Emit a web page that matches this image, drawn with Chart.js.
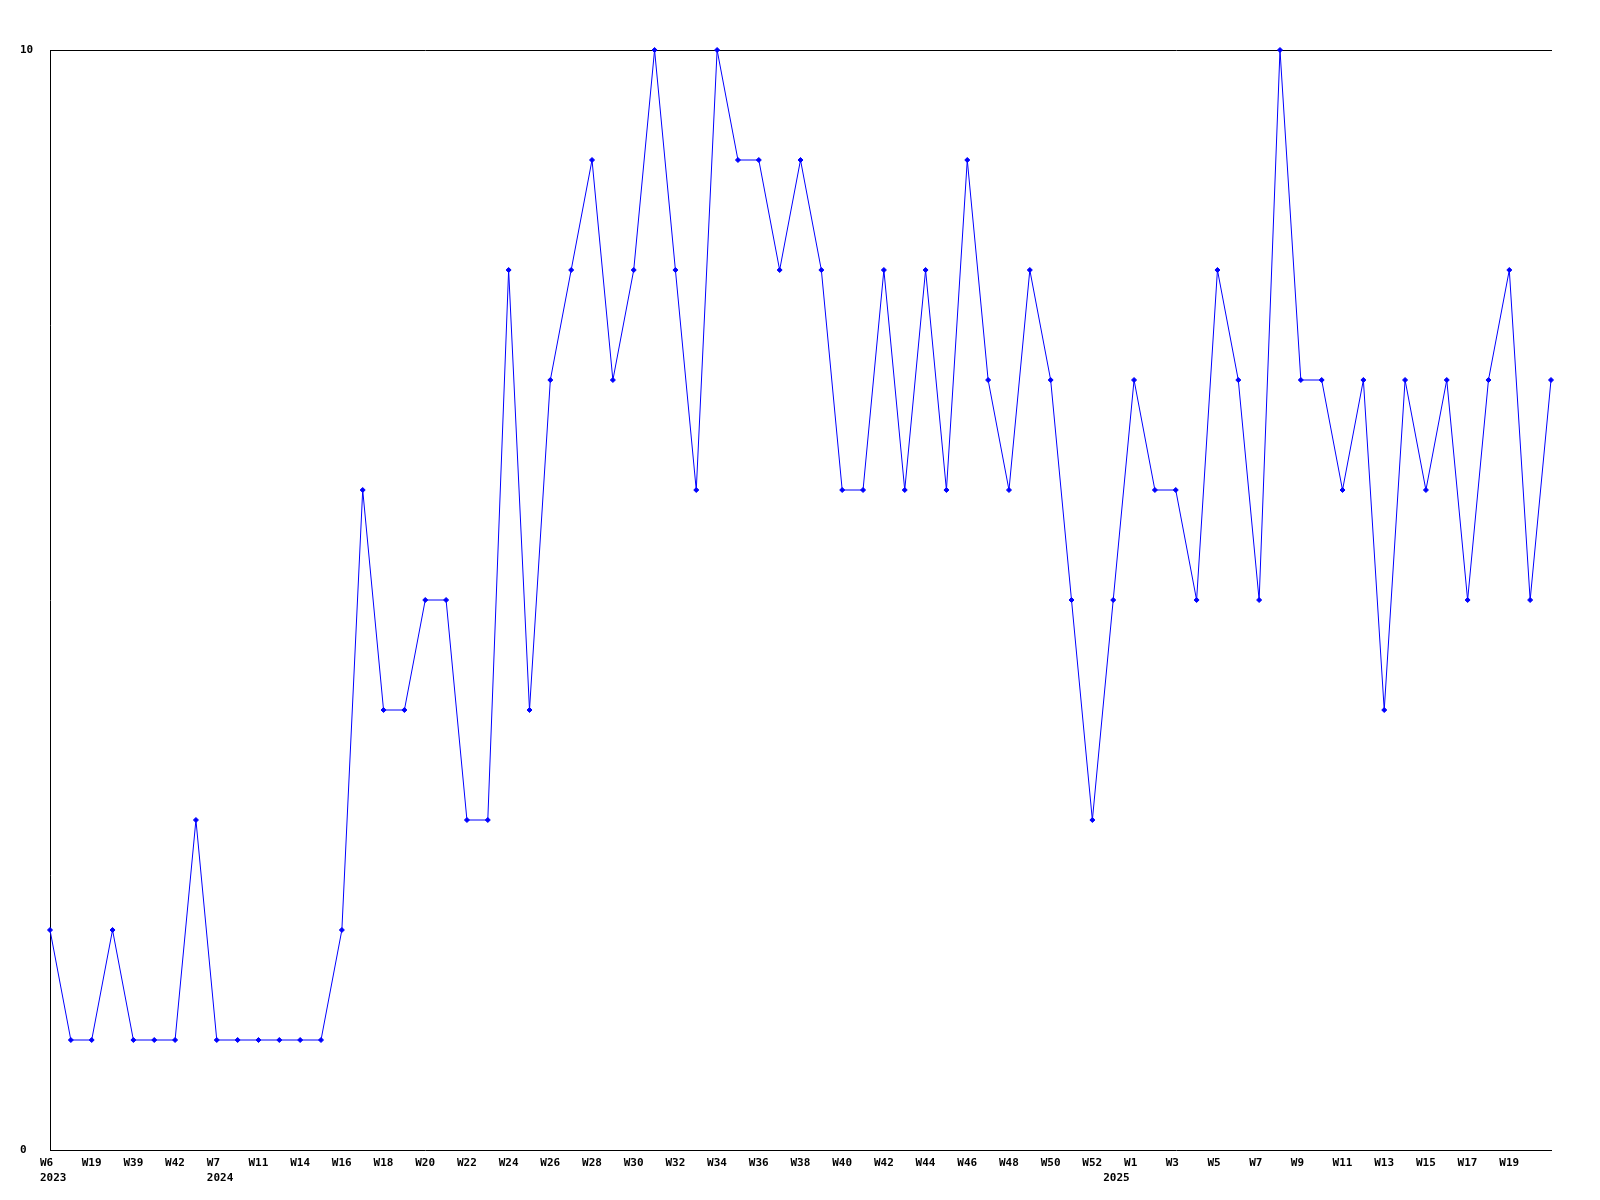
<!DOCTYPE html>
<html><head><meta charset="utf-8">
<script src="https://cdn.jsdelivr.net/npm/chart.js@4.4.1/dist/chart.umd.min.js"></script>
<style>html,body{margin:0;padding:0;background:#fff}#wrap{width:1600px;height:1200px}</style>
</head><body><div id="wrap"><canvas id="c" width="1600" height="1200"></canvas></div>
<script>
const weeks = ['W6','W12','W19','W30','W39','W40','W42','W48','W7','W9','W11','W13','W14','W15',
  'W16','W17','W18','W19','W20','W21','W22','W23','W24','W25','W26','W27','W28','W29','W30','W31',
  'W32','W33','W34','W35','W36','W37','W38','W39','W40','W41','W42','W43','W44','W45','W46','W47',
  'W48','W49','W50','W51','W52','W0',
  'W1','W2','W3','W4','W5','W6','W7','W8','W9','W10','W11','W12','W13','W14','W15','W16','W17','W18','W19','W20','W21'];
const years = ['2023','2023','2023','2023','2023','2023','2023','2023',
  '2024','2024','2024','2024','2024','2024','2024','2024','2024','2024','2024','2024','2024','2024',
  '2024','2024','2024','2024','2024','2024','2024','2024','2024','2024','2024','2024','2024','2024',
  '2024','2024','2024','2024','2024','2024','2024','2024','2024','2024','2024','2024','2024','2024',
  '2024',
  '2025','2025','2025','2025','2025','2025','2025','2025','2025','2025','2025','2025','2025','2025',
  '2025','2025','2025','2025','2025','2025','2025','2025'];
const values = [2,1,1,2,1,1,1,3,1,1,1,1,1,1,
  2,6,4,4,5,5,3,3,8,4,7,8,9,7,8,10,8,6,10,9,9,8,9,8,6,6,8,6,8,6,9,7,6,8,7,5,3,5,
  7,6,6,5,8,7,5,10,7,7,6,7,4,7,6,7,5,7,8,5,7];
const yTickValues = [0, 10];

const tickFont = {family: 'DejaVu Sans Mono', weight: 'bold', size: 11, lineHeight: 1.4};

function tickLabel(i) {
  const showWeek = i % 2 === 0 && i < weeks.length - 1;
  const showYear = i === 0 || years[i] !== years[i - 1];
  if (showYear) return [showWeek ? weeks[i] : '', years[i]];
  return showWeek ? weeks[i] : '';
}

new Chart(document.getElementById('c'), {
  type: 'line',
  data: {
    labels: weeks,
    datasets: [{
      data: values,
      borderColor: '#0000ff',
      backgroundColor: '#0000ff',
      borderWidth: 1,
      tension: 0,
      fill: false,
      clip: false,
      pointStyle: 'rectRot',
      pointRadius: 2.5,
      pointBorderWidth: 1,
      pointBorderColor: '#0000ff',
      pointBackgroundColor: '#0000ff'
    }]
  },
  options: {
    responsive: false,
    animation: false,
    devicePixelRatio: 1,
    layout: {padding: {left: 20, top: 50, right: 49, bottom: 0}},
    plugins: {legend: {display: false}, tooltip: {enabled: false}, title: {display: false}},
    scales: {
      x: {
        type: 'category',
        position: 'bottom',
        offset: false,
        grid: {display: false, drawTicks: false},
        border: {display: true, color: '#000', width: 1},
        ticks: {
          autoSkip: false, maxRotation: 0, minRotation: 0, padding: 5,
          align: 'start', labelOffset: -10,
          color: '#000', font: tickFont,
          callback: function(v, i) { return tickLabel(i); }
        },
        afterFit: s => { s.height = 50; }
      },
      xTop: {
        type: 'category',
        position: 'top',
        labels: weeks,
        offset: false,
        grid: {display: false, drawTicks: false},
        border: {display: true, color: '#000', width: 1},
        ticks: {display: false},
        afterFit: s => { s.height = 0; }
      },
      y: {
        min: 0, max: 10,
        grid: {display: false, drawTicks: false},
        border: {display: true, color: '#000', width: 1},
        ticks: {crossAlign: 'far', color: '#000', font: tickFont, padding: 0},
        afterBuildTicks: s => { s.ticks = yTickValues.map(v => ({value: v})); },
        afterFit: s => { s.width = 30; }
      }
    }
  }
});
</script>
</body></html>
